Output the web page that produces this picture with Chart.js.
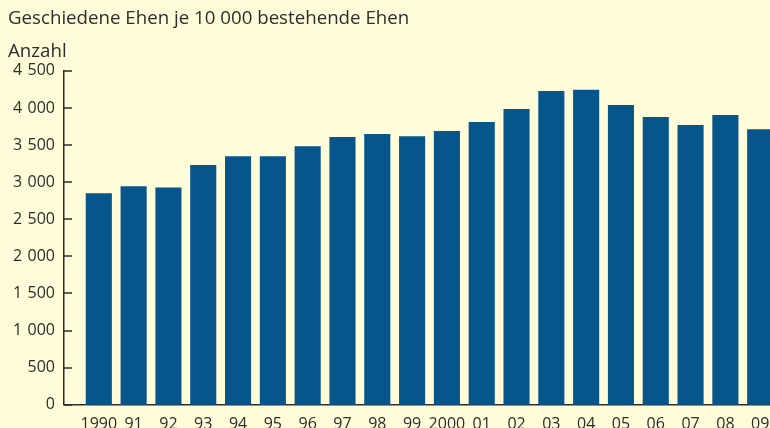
<!DOCTYPE html>
<html>
<head>
<meta charset="utf-8">
<script src="https://cdn.jsdelivr.net/npm/chart.js@4"></script>
<style>
  html, body { margin: 0; padding: 0; background: #fffcd9; overflow: hidden; }
  #wrap { position: relative; width: 800px; height: 444px; }
</style>
</head>
<body>
<div id="wrap"><canvas id="chart"></canvas></div>
<script>
; (function () {
    'use strict'

    // ── Data ───────────────────────────────────────────────────────────────────
    const years = [1990, 1991, 1992, 1993, 1994, 1995, 1996, 1997, 1998, 1999,
        2000, 2001, 2002, 2003, 2004, 2005, 2006, 2007, 2008, 2009]
    const yearLabels = ['1990', '91', '92', '93', '94', '95', '96', '97', '98', '99',
        '2000', '01', '02', '03', '04', '05', '06', '07', '08', '09']
    const divorces = [2850, 2945, 2930, 3230, 3350, 3350, 3485, 3610, 3650, 3620,
        3690, 3810, 3985, 4230, 4245, 4040, 3880, 3770, 3905, 3715]

    const TEXT = '#2d2d2d'
    const FONT = { family: '"Open Sans", sans-serif', size: 16 }
    const BIG = { family: '"Open Sans", sans-serif', size: 18.7 }

    // thousands separated by a wider space, as in the print layout
    const fmt = v => String(v).replace(/\B(?=(\d{3})+(?!\d))/g, '\u2004')

    // inward y ticks, like the print original
    const innerTicks = {
        id: 'innerTicks',
        afterDraw(chart) {
            const { ctx, chartArea, scales: { y } } = chart
            ctx.save()
            ctx.strokeStyle = TEXT
            ctx.lineWidth = 1.5
            y.ticks.forEach(t => {
                const py = Math.round(y.getPixelForValue(t.value))
                ctx.beginPath()
                ctx.moveTo(chartArea.left, py)
                ctx.lineTo(chartArea.left + 8, py)
                ctx.stroke()
            })
            ctx.restore()
        }
    }

    new Chart(document.getElementById('chart'), {
        type: 'bar',
        data: {
            datasets: [{
                data: years.map((x, i) => ({ x, y: divorces[i] })),
                backgroundColor: '#06568c',
                barPercentage: 0.75,
                categoryPercentage: 1,
                clip: false
            }]
        },
        options: {
            responsive: true,
            maintainAspectRatio: false,
            animation: false,
            layout: { padding: { left: 8, right: 5, top: 0, bottom: 0 } },
            plugins: {
                legend: { display: false },
                tooltip: { enabled: false },
                title: {
                    display: true,
                    text: 'Geschiedene Ehen je 10 000 bestehende Ehen',
                    align: 'start',
                    color: TEXT,
                    font: { ...BIG, weight: 'normal' },
                    padding: { top: 7, bottom: 4 }
                },
                subtitle: {
                    display: true,
                    text: 'Anzahl',
                    align: 'start',
                    color: TEXT,
                    font: BIG,
                    padding: { top: 7, bottom: 8 }
                }
            },
            scales: {
                x: {
                    type: 'linear',
                    offset: false,
                    min: 1989,
                    max: 2010,
                    grid: { display: false, drawTicks: false },
                    border: { display: true, color: TEXT, width: 1.5 },
                    afterBuildTicks: axis => { axis.ticks = years.map(v => ({ value: v })) },
                    ticks: {
                        color: TEXT, font: FONT, padding: 10, maxRotation: 0, autoSkip: false,
                        callback: v => yearLabels[years.indexOf(v)]
                    }
                },
                y: {
                    min: 0, max: 4500,
                    grid: { display: false, drawTicks: false },
                    border: { display: true, color: TEXT, width: 1.5 },
                    afterFit: axis => { axis.width = 56 },
                    ticks: { stepSize: 500, color: TEXT, font: FONT, padding: 9, callback: fmt }
                }
            }
        },
        plugins: [innerTicks]
    })
})()
</script>
</body>
</html>
